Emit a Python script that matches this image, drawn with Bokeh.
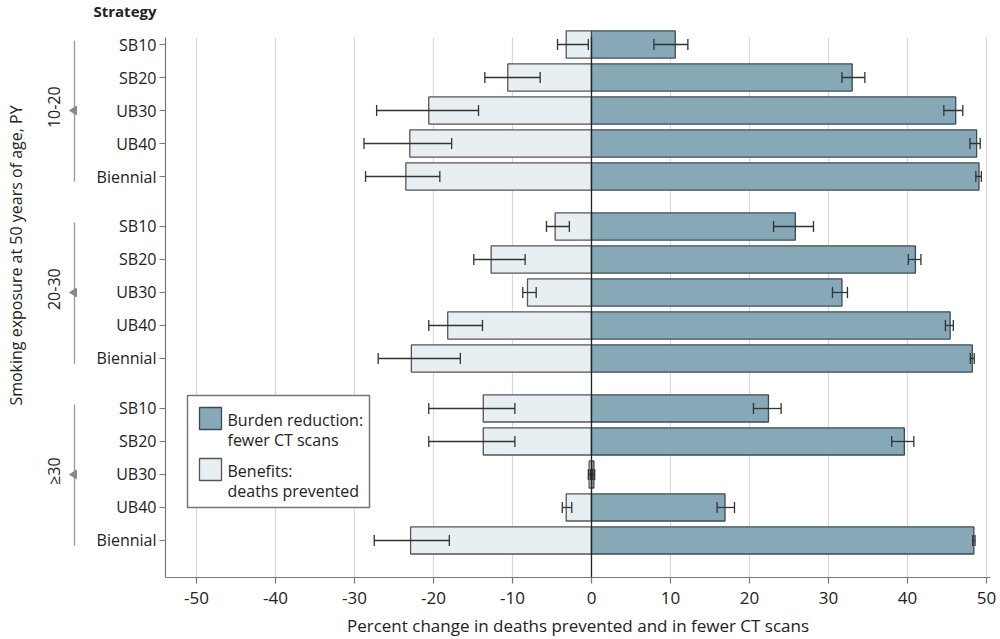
import numpy as np
from bokeh.plotting import figure
from bokeh.models import Range1d, ColumnDataSource
from bokeh.embed import file_html
from bokeh.resources import INLINE
from bokeh.core.properties import value

# ---------------- data ----------------
groups = ["10-20", "20-30", "\u226530"]
strategies = ["SB10", "SB20", "UB30", "UB40", "Biennial"]

benefit    = [-3.2, -10.6, -20.6, -23.0, -23.5,   -4.6, -12.7, -8.1, -18.2, -22.8,   -13.7, -13.7, -0.3, -3.2, -22.9]
benefit_lo = [-4.3, -13.5, -27.2, -28.8, -28.6,   -5.7, -14.9, -8.7, -20.6, -27.0,   -20.6, -20.6, -0.4, -3.7, -27.5]
benefit_hi = [-0.4,  -6.5, -14.3, -17.7, -19.2,   -2.8,  -8.4, -7.0, -13.8, -16.6,    -9.7,  -9.7, -0.1, -2.5, -18.0]

burden     = [10.6, 33.0, 46.1, 48.75, 49.05,   25.8, 41.0, 31.7, 45.4, 48.2,   22.4, 39.6, 0.3, 16.9, 48.4]
burden_lo  = [ 7.9, 31.7, 44.6, 47.9,  48.65,   23.05, 40.1, 30.5, 44.8, 47.95, 20.5, 38.0, 0.1, 15.9, 48.25]
burden_hi  = [12.2, 34.6, 47.0, 49.2,  49.35,   28.1, 41.7, 32.4, 45.8, 48.45,  24.0, 40.8, 0.4, 18.1, 48.55]

x_ticks = [-50, -40, -30, -20, -10, 0, 10, 20, 30, 40, 50]
x_tick_labels = ["-50", "-40", "-30", "-20", "-10", "0", "10", "20", "30", "40", "50"]

legend_labels = ["Burden reduction:\nfewer CT scans", "Benefits:\ndeaths prevented"]
x_title = "Percent change in deaths prevented and in fewer CT scans"
y_title = "Smoking exposure at 50 years of age, PY"

# ---------------- layout helpers (pixel -> data) ----------------
PX_X = 7.9      # px per x unit
PX_Y = 33.0     # px per row
X0_PX = 591     # pixel of x = 0
Y0_PX = 44      # pixel of first row


def X(px):
    return (px - X0_PX) / PX_X


def Y(py):
    return (py - Y0_PX) / PX_Y


GAP = 0.515
n_s = len(strategies)
ypos = [g * (n_s + GAP) + i for g in range(len(groups)) for i in range(n_s)]
labels = [s for g in groups for s in strategies]

FONT = "Open Sans"
TXT = "#222222"
AXC = "#777777"
BUR_FILL, BUR_LINE = "#86a8b7", "#3b4b53"
BEN_FILL, BEN_LINE = "#e8eff3", "#555555"

W, H = 998, 636
FRAME_L, FRAME_R, FRAME_B, FRAME_T = 165, 990, 577, 37

p = figure(width=W, height=H, output_backend="svg", toolbar_location=None,
           x_range=Range1d(X(0), X(W)), y_range=Range1d(Y(H), Y(0)),
           min_border_left=0, min_border_right=0, min_border_top=0,
           min_border_bottom=0)
p.outline_line_color = None
p.background_fill_color = "white"
p.border_fill_color = "white"
p.xgrid.visible = False
p.ygrid.visible = False
p.xaxis.visible = False
p.yaxis.visible = False

ytop, ybot = Y(FRAME_T), Y(FRAME_B)
xleft, xright = X(FRAME_L), X(FRAME_R)
nt = len(x_ticks)

# vertical grid lines
p.segment(x0=x_ticks, x1=x_ticks, y0=[ytop] * nt, y1=[ybot] * nt,
          line_color="#d9d9d9", line_width=1.2)

# legend box (covers grid lines)
p.quad(left=[X(187)], right=[X(369)], top=[Y(395)], bottom=[Y(507)],
       fill_color="white", line_color="#777777", line_width=1.5)
p.quad(left=[X(199)], right=[X(221)], top=[Y(407)], bottom=[Y(429)],
       fill_color=BUR_FILL, line_color=BUR_LINE, line_width=1.3)
p.quad(left=[X(199)], right=[X(221)], top=[Y(458)], bottom=[Y(480)],
       fill_color=BEN_FILL, line_color=BEN_LINE, line_width=1.3)
p.text(x=[X(227), X(227)], y=[Y(408), Y(459)], text=legend_labels,
       text_align="left", text_baseline="top", text_line_height=0.92,
       text_font=value(FONT), text_font_size="16px", text_color=TXT)

# bars
src = ColumnDataSource(dict(y=ypos, benefit=benefit, benefit_lo=benefit_lo, benefit_hi=benefit_hi,
                            burden=burden, burden_lo=burden_lo, burden_hi=burden_hi,
                            zero=[0] * len(ypos),
                            y0=[v - 0.17 for v in ypos], y1=[v + 0.17 for v in ypos]))

p.hbar(y="y", left="benefit", right="zero", height=0.82, source=src,
       fill_color=BEN_FILL, line_color=BEN_LINE, line_width=1.3)
p.hbar(y="y", left="zero", right="burden", height=0.82, source=src,
       fill_color=BUR_FILL, line_color=BUR_LINE, line_width=1.3)

# error bars
for lo, hi in (("benefit_lo", "benefit_hi"), ("burden_lo", "burden_hi")):
    p.segment(x0=lo, x1=hi, y0="y", y1="y", source=src, line_color="#333333", line_width=1.3)
    p.segment(x0=lo, x1=lo, y0="y0", y1="y1", source=src, line_color="#333333", line_width=1.3)
    p.segment(x0=hi, x1=hi, y0="y0", y1="y1", source=src, line_color="#333333", line_width=1.3)

# zero line
p.segment(x0=[0], x1=[0], y0=[ytop], y1=[ybot], line_color="#222222", line_width=1.3)

# left axis
p.segment(x0=[xleft], x1=[xleft], y0=[ytop], y1=[ybot], line_color=AXC, line_width=1.2)
p.segment(x0=[X(159)] * len(ypos), x1=[xleft] * len(ypos), y0=ypos, y1=ypos,
          line_color=AXC, line_width=1.2)
p.text(x=[X(156)] * len(ypos), y=ypos, text=labels, text_align="right", text_baseline="middle",
       text_font=value(FONT), text_font_size="16px", text_color=TXT)

# bottom axis
p.segment(x0=[xleft], x1=[xright], y0=[ybot], y1=[ybot], line_color=AXC, line_width=1.2)
p.segment(x0=x_ticks, x1=x_ticks, y0=[ybot] * nt, y1=[Y(FRAME_B + 6)] * nt,
          line_color=AXC, line_width=1.2)
p.text(x=x_ticks, y=[Y(597)] * nt, text=x_tick_labels, text_align="center", text_baseline="middle",
       text_font=value(FONT), text_font_size="17px", text_color=TXT)
p.text(x=[X((FRAME_L + FRAME_R) / 2)], y=[Y(625)], text=[x_title],
       text_align="center", text_baseline="middle",
       text_font=value(FONT), text_font_size="17px", text_color=TXT)

# group brackets, triangles and labels
for g, name in enumerate(groups):
    first = ypos[g * n_s]
    last = ypos[g * n_s + n_s - 1]
    mid = ypos[g * n_s + n_s // 2]
    p.segment(x0=[X(74)], x1=[X(74)], y0=[first - 0.12], y1=[last + 0.16],
              line_color="#999999", line_width=1.3)
    p.patch(x=[X(69), X(76), X(76)], y=[mid, mid - 0.13, mid + 0.13],
            fill_color="#888888", line_color="#888888", line_width=1)
    p.text(x=[X(53)], y=[mid - 0.1], text=[name], angle=np.pi / 2,
           text_align="center", text_baseline="middle",
           text_font=value(FONT), text_font_size="16px", text_color=TXT)

# y axis title and header
p.text(x=[X(15)], y=[Y(255)], text=[y_title], angle=np.pi / 2,
       text_align="center", text_baseline="middle",
       text_font=value(FONT), text_font_size="16px", text_color=TXT)
p.text(x=[X(156)], y=[Y(10)], text=["Strategy"], text_align="right", text_baseline="middle",
       text_font=value(FONT), text_font_size="15px", text_font_style="bold", text_color=TXT)

open("out.html", "w").write(file_html(p, INLINE))
